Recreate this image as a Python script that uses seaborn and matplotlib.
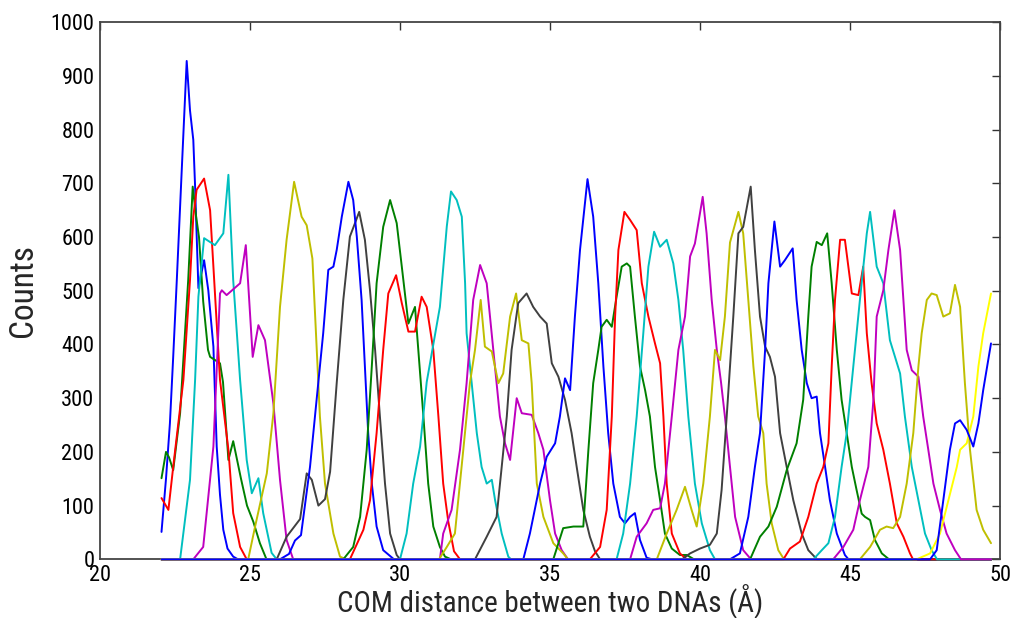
import matplotlib
matplotlib.use("Agg")
import matplotlib.pyplot as plt
import seaborn as sns
import pandas as pd

# ---------------- data ----------------
x_ticks = [20, 25, 30, 35, 40, 45, 50]
y_ticks = [0, 100, 200, 300, 400, 500, 600, 700, 800, 900, 1000]
x_start, x_end = 22.05, 49.7   # histogram range (zero outside each window)

w01_x = [22.05, 22.2, 22.33, 22.44, 22.56, 22.72, 22.89, 23.0, 23.11, 23.17, 23.22, 23.28, 23.37, 23.47, 23.61, 23.78, 23.89, 24.0, 24.11, 24.25, 24.44, 24.6]
w01_y = [51, 150, 253, 377, 520, 719, 928, 836, 781, 694, 607, 505, 530, 557, 501, 396, 210, 120, 55, 20, 5, 0]
w02_x = [22.05, 22.2, 22.3, 22.44, 22.67, 22.94, 23.09, 23.2, 23.3, 23.44, 23.6, 23.67, 24.0, 24.1, 24.28, 24.44, 24.7, 24.9, 25.11, 25.33, 25.55]
w02_y = [151, 200, 190, 166, 272, 520, 694, 640, 600, 480, 390, 377, 365, 330, 185, 220, 150, 100, 70, 30, 0]
w03_x = [22.05, 22.28, 22.44, 22.78, 23.0, 23.11, 23.22, 23.47, 23.67, 23.78, 24.0, 24.28, 24.44, 24.67, 24.89]
w03_y = [114, 92, 172, 334, 520, 638, 688, 709, 650, 545, 334, 204, 86, 23, 0]
w04_x = [22.67, 23.0, 23.17, 23.28, 23.47, 23.83, 24.11, 24.28, 24.44, 24.67, 24.89, 25.06, 25.28, 25.44, 25.72, 25.89]
w04_y = [0, 148, 334, 489, 598, 585, 607, 716, 520, 334, 185, 123, 151, 86, 12, 0]
w05_x = [23.11, 23.44, 23.78, 24.0, 24.06, 24.22, 24.67, 24.86, 25.09, 25.28, 25.5, 25.78, 26.0, 26.22, 26.44]
w05_y = [0, 23, 210, 495, 501, 492, 514, 585, 377, 436, 408, 290, 148, 36, 0]
w06_x = [24.94, 25.17, 25.56, 25.78, 26.0, 26.22, 26.47, 26.72, 26.89, 27.08, 27.2, 27.33, 27.5, 27.78, 28.0, 28.2]
w06_y = [0, 61, 160, 272, 470, 595, 703, 638, 622, 560, 420, 266, 141, 48, 5, 0]
w07_x = [25.89, 26.22, 26.67, 26.89, 27.06, 27.28, 27.5, 27.67, 27.89, 28.11, 28.33, 28.5, 28.64, 28.83, 29.0, 29.17, 29.33, 29.5, 29.67, 29.89, 30.0]
w07_y = [0, 42, 75, 160, 148, 100, 112, 163, 328, 483, 601, 626, 647, 595, 501, 390, 266, 141, 48, 8, 0]
w08_x = [26.0, 26.3, 26.5, 26.7, 27.0, 27.22, 27.44, 27.61, 27.78, 27.89, 28.06, 28.28, 28.44, 28.56, 28.72, 28.83, 28.94, 29.06, 29.22, 29.44, 29.8]
w08_y = [0, 10, 35, 45, 172, 297, 421, 539, 545, 576, 638, 703, 669, 601, 483, 359, 235, 141, 61, 17, 0]
w09_x = [28.11, 28.44, 28.67, 28.89, 29.06, 29.22, 29.44, 29.67, 29.89, 30.06, 30.28, 30.5, 30.61, 30.78, 30.94, 31.11, 31.33, 31.5, 31.7]
w09_y = [0, 23, 79, 204, 359, 514, 619, 669, 626, 545, 439, 470, 390, 266, 141, 61, 23, 5, 0]
w10_x = [28.33, 28.78, 29.0, 29.22, 29.44, 29.61, 29.87, 30.06, 30.28, 30.5, 30.72, 30.89, 31.11, 31.28, 31.44, 31.61, 31.8, 32.0]
w10_y = [0, 55, 110, 235, 390, 495, 529, 477, 424, 424, 489, 470, 390, 266, 141, 70, 15, 0]
w11_x = [30.0, 30.22, 30.44, 30.67, 30.89, 31.11, 31.33, 31.56, 31.7, 31.89, 32.06, 32.17, 32.22, 32.39, 32.56, 32.72, 32.89, 33.06, 33.17, 33.39, 33.61, 33.7]
w11_y = [0, 48, 141, 210, 330, 400, 470, 620, 685, 669, 638, 514, 421, 328, 235, 172, 141, 148, 110, 48, 5, 0]
w12_x = [31.33, 31.44, 31.72, 32.0, 32.22, 32.44, 32.67, 32.89, 33.11, 33.33, 33.5, 33.67, 33.89, 34.06, 34.39, 34.61, 34.78, 35.0, 35.17, 35.39, 35.6]
w12_y = [0, 48, 92, 204, 328, 483, 548, 514, 390, 266, 216, 185, 300, 272, 269, 235, 204, 110, 48, 17, 0]
w13_x = [31.3, 31.56, 31.83, 32.11, 32.33, 32.5, 32.69, 32.83, 33.06, 33.28, 33.44, 33.67, 33.87, 34.06, 34.28, 34.39, 34.56, 34.78, 35.11, 35.44, 35.6]
w13_y = [0, 23, 48, 204, 328, 390, 483, 396, 387, 328, 346, 452, 495, 408, 402, 328, 141, 79, 30, 11, 0]
w14_x = [32.5, 32.89, 33.22, 33.39, 33.56, 33.72, 33.94, 34.22, 34.44, 34.67, 34.89, 35.06, 35.28, 35.5, 35.72, 35.89, 36.11, 36.33, 36.5, 36.67]
w14_y = [0, 42, 79, 172, 266, 390, 477, 495, 470, 452, 439, 365, 340, 297, 235, 172, 92, 42, 15, 0]
w15_x = [34.11, 34.33, 34.67, 34.89, 35.17, 35.33, 35.5, 35.67, 35.83, 36.0, 36.25, 36.44, 36.61, 36.78, 36.94, 37.11, 37.33, 37.5, 37.67, 37.83, 38.0, 38.22, 38.4]
w15_y = [0, 48, 141, 191, 216, 266, 337, 315, 452, 576, 708, 638, 514, 359, 235, 141, 79, 67, 79, 86, 36, 3, 0]
w16_x = [35.11, 35.44, 35.78, 36.11, 36.28, 36.44, 36.61, 36.72, 36.89, 37.06, 37.22, 37.39, 37.56, 37.67, 37.83, 38.0, 38.17, 38.33, 38.5, 38.67, 38.83, 39.06, 39.33, 39.56, 39.8]
w16_y = [0, 58, 61, 61, 204, 328, 390, 433, 446, 433, 489, 545, 551, 545, 452, 359, 315, 266, 172, 110, 48, 20, 8, 8, 0]
w17_x = [36.33, 36.67, 36.89, 37.06, 37.17, 37.28, 37.48, 37.67, 37.89, 38.06, 38.28, 38.5, 38.67, 38.78, 38.89, 39.06, 39.33, 39.56]
w17_y = [0, 23, 92, 266, 452, 576, 647, 632, 613, 514, 452, 402, 365, 266, 141, 48, 11, 0]
w18_x = [37.22, 37.44, 37.67, 37.89, 38.11, 38.28, 38.47, 38.67, 38.89, 39.11, 39.28, 39.44, 39.61, 39.83, 40.06, 40.33, 40.5]
w18_y = [0, 48, 141, 266, 421, 545, 610, 582, 595, 551, 483, 390, 266, 141, 67, 17, 0]
w19_x = [37.67, 37.89, 38.22, 38.44, 38.67, 38.83, 39.06, 39.28, 39.5, 39.67, 39.83, 39.98, 40.09, 40.22, 40.39, 40.56, 40.7, 40.83, 41.0, 41.17, 41.44, 41.7]
w19_y = [0, 42, 67, 92, 95, 141, 266, 390, 452, 564, 588, 638, 675, 607, 483, 390, 330, 266, 172, 79, 17, 0]
w20_x = [38.56, 38.89, 39.22, 39.5, 39.72, 39.89, 40.11, 40.33, 40.5, 40.67, 40.83, 41.0, 41.28, 41.44, 41.61, 41.78, 41.94, 42.11, 42.22, 42.39, 42.61, 42.8]
w20_y = [0, 48, 92, 135, 92, 61, 141, 266, 390, 371, 452, 590, 647, 607, 483, 359, 266, 235, 141, 67, 17, 0]
w21_x = [39.4, 39.67, 40.0, 40.33, 40.56, 40.72, 40.89, 41.11, 41.28, 41.44, 41.69, 41.83, 42.0, 42.17, 42.33, 42.5, 42.67, 42.89, 43.11, 43.39, 43.61, 43.9]
w21_y = [0, 11, 20, 27, 48, 129, 266, 452, 607, 619, 694, 576, 452, 396, 377, 340, 235, 172, 110, 48, 17, 0]
w22_x = [41.0, 41.33, 41.61, 41.83, 42.0, 42.17, 42.28, 42.48, 42.67, 42.83, 43.09, 43.22, 43.39, 43.56, 43.72, 43.89, 44.0, 44.17, 44.33, 44.56, 44.83, 44.95]
w22_y = [0, 11, 79, 172, 235, 390, 514, 629, 545, 557, 579, 483, 390, 328, 300, 303, 235, 172, 110, 48, 8, 0]
w23_x = [41.67, 42.0, 42.28, 42.56, 42.89, 43.22, 43.44, 43.61, 43.72, 43.89, 44.06, 44.24, 44.39, 44.56, 44.72, 44.89, 45.06, 45.22, 45.39, 45.5, 45.67, 45.83, 46.06, 46.3]
w23_y = [0, 42, 61, 98, 166, 216, 297, 452, 545, 591, 585, 607, 514, 390, 297, 235, 172, 129, 85, 79, 73, 36, 11, 0]
w24_x = [42.78, 43.0, 43.33, 43.61, 43.89, 44.11, 44.28, 44.39, 44.5, 44.67, 44.83, 45.06, 45.28, 45.44, 45.56, 45.72, 45.89, 46.11, 46.33, 46.56, 46.78, 47.0, 47.1]
w24_y = [0, 20, 33, 79, 141, 172, 216, 359, 483, 595, 595, 495, 492, 545, 421, 328, 253, 204, 141, 67, 42, 11, 0]
w25_x = [43.78, 44.06, 44.28, 44.5, 44.72, 44.89, 45.11, 45.33, 45.56, 45.67, 45.89, 46.11, 46.33, 46.67, 46.83, 47.06, 47.28, 47.5, 47.72, 47.9]
w25_y = [0, 17, 30, 79, 172, 235, 359, 483, 607, 647, 545, 514, 408, 346, 266, 172, 110, 48, 17, 0]
w26_x = [44.44, 44.78, 45.11, 45.33, 45.61, 45.78, 45.89, 46.11, 46.28, 46.48, 46.67, 46.78, 46.89, 47.06, 47.28, 47.44, 47.61, 47.78, 48.0, 48.22, 48.5, 48.7]
w26_y = [0, 23, 55, 110, 172, 297, 452, 501, 576, 650, 576, 483, 390, 352, 340, 266, 204, 141, 92, 48, 17, 0]
w27_x = [45.33, 45.67, 46.0, 46.22, 46.44, 46.67, 46.89, 47.11, 47.28, 47.39, 47.56, 47.72, 47.89, 48.11, 48.33, 48.5, 48.67, 48.83, 49.0, 49.22, 49.44, 49.7]
w27_y = [0, 23, 55, 61, 58, 79, 141, 235, 359, 421, 483, 495, 492, 452, 458, 511, 470, 328, 204, 92, 55, 30]
w28_x = [47.22, 47.67, 48.0, 48.28, 48.56, 48.67, 48.89, 49.11, 49.28, 49.44, 49.7]
w28_y = [0, 11, 48, 110, 172, 204, 216, 266, 359, 421, 495]
w29_x = [47.67, 47.89, 48.11, 48.33, 48.5, 48.67, 48.89, 49.11, 49.28, 49.44, 49.7]
w29_y = [0, 17, 110, 204, 253, 259, 241, 210, 253, 315, 402]

windows_x = [w01_x, w02_x, w03_x, w04_x, w05_x, w06_x, w07_x, w08_x, w09_x, w10_x,
             w11_x, w12_x, w13_x, w14_x, w15_x, w16_x, w17_x, w18_x, w19_x, w20_x,
             w21_x, w22_x, w23_x, w24_x, w25_x, w26_x, w27_x, w28_x, w29_x]
windows_y = [w01_y, w02_y, w03_y, w04_y, w05_y, w06_y, w07_y, w08_y, w09_y, w10_y,
             w11_y, w12_y, w13_y, w14_y, w15_y, w16_y, w17_y, w18_y, w19_y, w20_y,
             w21_y, w22_y, w23_y, w24_y, w25_y, w26_y, w27_y, w28_y, w29_y]

# MATLAB-like colour cycle
C_B, C_G, C_R, C_C = (0, 0, 1), (0, 0.5, 0), (1, 0, 0), (0, 0.75, 0.75)
C_M, C_Y, C_K, C_YY = (0.75, 0, 0.75), (0.75, 0.75, 0), (0.25, 0.25, 0.25), (1, 1, 0)
colors = [C_B, C_G, C_R, C_C, C_M, C_Y, C_K] * 3 + [C_B, C_G, C_R, C_C, C_M, C_Y, C_YY, C_B]

# ---------------- long-form table (windows are zero outside their range) ----------------
rows = []
for i, (xs, ys) in enumerate(zip(windows_x, windows_y)):
    xx, yy = list(xs), list(ys)
    if yy[0] == 0 and xx[0] > x_start:
        xx = [x_start] + xx
        yy = [0] + yy
    if yy[-1] == 0 and xx[-1] < x_end:
        xx = xx + [x_end]
        yy = yy + [0]
    for k, (a, b) in enumerate(zip(xx, yy)):
        rows.append({"win": i, "order": k, "x": a, "y": b})
df = pd.DataFrame(rows)

# ---------------- plot ----------------
sns.set_theme(style="white")
plt.rcParams["font.family"] = ["Roboto Condensed", "Archivo Narrow", "Liberation Sans", "DejaVu Sans"]

fig = plt.figure(figsize=(10.15, 6.18), dpi=100)
ax = fig.add_axes([100 / 1015, 1 - 559.3 / 618, 900 / 1015, 537 / 618])

sns.lineplot(data=df, x="x", y="y", hue="win", palette=colors, sort=False,
             estimator=None, units="win", linewidth=1.4, legend=False, ax=ax)
for ln in ax.get_lines():
    ln.set_zorder(3)
    ln.set_clip_on(False)

ax.set_xlim(20, 50)
ax.set_ylim(0, 1000)
ax.set_xticks(x_ticks)
ax.set_yticks(y_ticks)
ax.tick_params(direction="in", top=True, right=True, length=6, width=1,
               colors="#333333", labelcolor="black", labelsize=16)
ax.tick_params(axis="y", pad=4)
ax.tick_params(axis="x", pad=4)
for s in ax.spines.values():
    s.set_color("#444444")
    s.set_linewidth(1.3)
ax.set_xlabel("COM distance between two DNAs (Å)", fontsize=21, va="center")
ax.xaxis.set_label_coords(0.5, -0.079)
ax.set_ylabel("Counts", fontsize=24, va="center")
ax.yaxis.set_label_coords(-0.086, 0.5)
ax.grid(False)

fig.savefig("out.png", dpi=100, facecolor="white")
